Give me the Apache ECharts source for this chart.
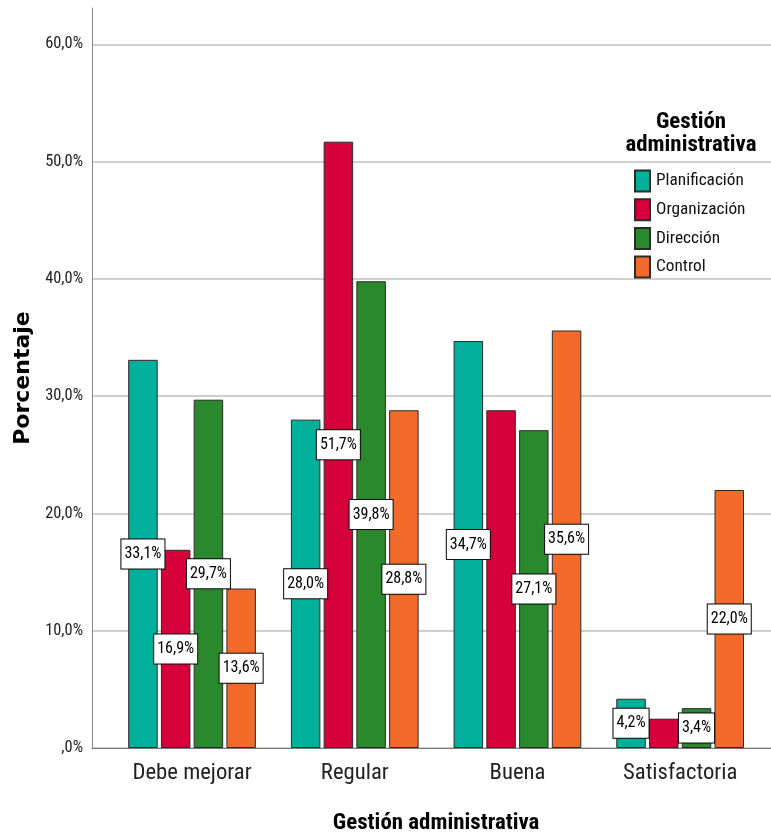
<!DOCTYPE html>
<html>
<head>
<meta charset="utf-8">
<title>Gestión administrativa</title>
<script src="https://cdn.jsdelivr.net/npm/echarts@6/dist/echarts.min.js"></script>
<style>
  html, body { margin: 0; padding: 0; background: #fff; }
  #chart { width: 771px; height: 836px; }
</style>
</head>
<body>
<div id="chart"></div>
<script>
// Category and series data (percentages)
const categories = ['Debe mejorar', 'Regular', 'Buena', 'Satisfactoria'];
const seriesNames = ['Planificación', 'Organización', 'Dirección', 'Control'];
const planificacion = [33.1, 28.0, 34.7, 4.2];
const organizacion = [16.9, 51.7, 28.8, 2.5];
const direccion = [29.7, 39.8, 27.1, 3.4];
const control = [13.6, 28.8, 35.6, 22.0];
const yTicks = [0, 10, 20, 30, 40, 50, 60];
// Bars whose value label is not printed
const unlabeled = { 'Organización': ['Buena', 'Satisfactoria'] };

const seriesValues = [planificacion, organizacion, direccion, control];
const colors = ['#00B09B', '#D6003A', '#2A892C', '#F26B2B'];

const NARROW = '"Liberation Sans Narrow", "Roboto Condensed", "Open Sans Condensed", "DejaVu Sans Condensed", "Liberation Sans", sans-serif';
const WIDE = '"DejaVu Sans", sans-serif';
const Y_MAX = 63.1;

// Pick a font size so a sample string spans the wanted width (capped at maxSize)
const measureCtx = document.createElement('canvas').getContext('2d');
function fitSize(text, width, family, weight, maxSize) {
  measureCtx.font = weight + ' 100px ' + family;
  const w = measureCtx.measureText(text).width;
  return Math.min(maxSize, Math.round(1000 * width / w) / 10);
}

const fsTick = fitSize('60,0%', 38, NARROW, 'normal', 17);
const fsCat = fitSize('Debe mejorar', 119, NARROW, 'normal', 24);
const fsLabel = fitSize('16,9%', 37, NARROW, 'normal', 16);
const fsLegend = fitSize('Planificación', 88, NARROW, 'normal', 21);
const fsLegendTitle = fitSize('administrativa', 131, NARROW, 'bold', 23);
const fsXName = fitSize('Gestión administrativa', 207, NARROW, 'bold', 23);
const fsYName = fitSize('Porcentaje', 137, WIDE, 'bold', 22);

function pct(v) {
  if (v === 0) return ',0%';
  return v.toFixed(1).replace('.', ',') + '%';
}

const chart = echarts.init(document.getElementById('chart'), null, { renderer: 'canvas' });

const series = seriesNames.map((name, i) => ({
  name: name,
  type: 'bar',
  xAxisIndex: 1,
  yAxisIndex: 1,
  barWidth: 29.5,
  barGap: '11%',
  itemStyle: { color: colors[i], borderColor: '#2b2b2b', borderWidth: 1 },
  label: {
    show: true,
    position: 'inside',
    formatter: p => pct(p.value),
    fontFamily: NARROW,
    fontSize: fsLabel,
    color: '#000',
    backgroundColor: '#fff',
    borderColor: '#111',
    borderWidth: 1,
    padding: [7, 3, 6, 3],
    shadowColor: 'rgba(0,0,0,0.25)',
    shadowBlur: 1
  },
  emphasis: { disabled: true },
  data: seriesValues[i].map((v, j) => {
    const hide = (unlabeled[name] || []).includes(categories[j]);
    return hide ? { value: v, label: { show: false } } : v;
  })
}));

const option = {
  animation: false,
  backgroundColor: '#fff',
  textStyle: { fontFamily: NARROW },
  grid: [
    { left: 92, right: 0, top: 8, bottom: 88, outerBoundsMode: 'none' },
    { left: 110.7, right: 9.5, top: 8, bottom: 88, outerBoundsMode: 'none' }
  ],
  legend: {
    orient: 'vertical',
    left: 634,
    top: 169.5,
    itemWidth: 15,
    itemHeight: 21,
    itemGap: 5.7,
    padding: 0,
    icon: 'rect',
    selectedMode: false,
    data: seriesNames,
    textStyle: { fontFamily: NARROW, fontSize: fsLegend, color: '#111', padding: [0, 0, 0, 1] }
  },
  graphic: [{
    type: 'text',
    silent: true,
    style: {
      x: 691,
      y: 134,
      text: 'Gestión\nadministrativa',
      textAlign: 'center',
      textVerticalAlign: 'middle',
      font: 'bold ' + fsLegendTitle + 'px ' + NARROW,
      lineHeight: 22.5,
      fill: '#000'
    }
  }],
  xAxis: [
    {
      gridIndex: 0,
      type: 'value',
      min: 0,
      max: 1,
      axisLine: { show: true, onZero: false, lineStyle: { color: '#777', width: 1 } },
      axisTick: { show: false },
      axisLabel: { show: false },
      splitLine: { show: false }
    },
    {
      gridIndex: 1,
      type: 'category',
      data: categories,
      axisLine: { show: false },
      axisTick: { show: false },
      axisLabel: { interval: 0, fontFamily: NARROW, fontSize: fsCat, color: '#222', margin: 14 },
      name: 'Gestión administrativa',
      nameLocation: 'middle',
      nameGap: 64,
      nameTextStyle: { fontFamily: NARROW, fontSize: fsXName, fontWeight: 'bold', color: '#000' }
    }
  ],
  yAxis: [
    {
      gridIndex: 0,
      type: 'value',
      min: 0,
      max: Y_MAX,
      interval: 10,
      axisLine: { show: true, lineStyle: { color: '#888', width: 1 } },
      axisTick: { show: false },
      axisLabel: {
        margin: 9,
        fontFamily: NARROW,
        fontSize: fsTick,
        color: '#222',
        formatter: v => (yTicks.includes(v) ? pct(v) : '')
      },
      splitLine: { show: true, showMaxLine: false, lineStyle: { color: '#cfcfcf', width: 2 } },
      name: 'Porcentaje',
      nameLocation: 'middle',
      nameRotate: 90,
      nameGap: 52,
      nameTextStyle: { fontFamily: WIDE, fontSize: fsYName, fontWeight: 'bold', color: '#000' }
    },
    {
      gridIndex: 1,
      type: 'value',
      min: 0,
      max: Y_MAX,
      show: false,
      splitLine: { show: false }
    }
  ],
  series: series
};

chart.setOption(option);
</script>
</body>
</html>
